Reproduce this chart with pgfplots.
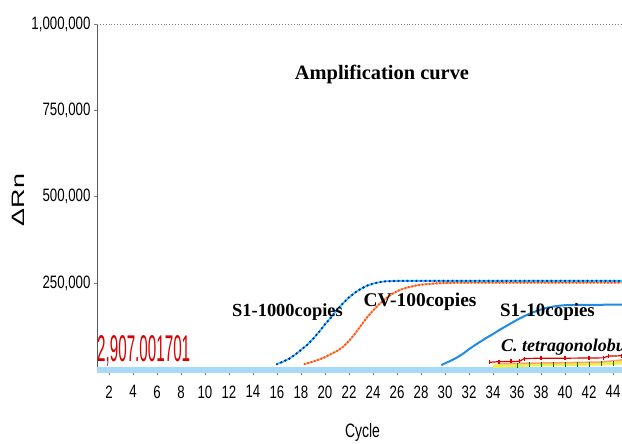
\documentclass[border=0pt]{standalone}
\usepackage{pgfplots}
\pgfplotsset{compat=1.18}
\usepackage{pgfplotstable}
\usepackage{graphicx}
\usepackage{fontspec}
\setmainfont{Liberation Serif}
\newfontfamily\narrowsans[FakeStretch=0.74]{Liberation Sans}
\newfontfamily\plainsans{Liberation Sans}
\definecolor{band}{HTML}{A6DAF6}
\definecolor{navy}{HTML}{1022B0}
\definecolor{cyanl}{HTML}{30C8F8}
\definecolor{orng}{HTML}{FF4E10}
\definecolor{orngl}{HTML}{FFA070}
\definecolor{sky}{HTML}{1E8CE6}
\definecolor{redt}{HTML}{D80000}
\definecolor{ylw}{HTML}{EEF04A}

\pgfplotstableread{
cycle value
16.0 15000
16.5 22000
17.0 30000
17.5 42000
18.0 56000
18.5 70000
19.0 88000
19.5 108000
20.0 130000
20.5 150000
21.0 172000
21.5 191000
22.0 208000
22.5 222000
23.0 233000
23.5 242000
24.0 248000
24.5 252000
25.0 254500
26.0 256000
30.0 256000
44.75 256000
}\sthousand

\pgfplotstableread{
cycle value
18.3 15000
18.5 17000
19.0 22000
19.5 28000
20.0 35000
20.5 44000
21.0 53000
21.5 65000
22.0 82000
22.5 103000
23.0 127000
23.5 150000
24.0 170000
24.5 188000
25.0 203000
25.5 216000
26.0 226000
26.5 233000
27.0 238000
27.5 242000
28.0 245000
29.0 248000
30.0 250000
32.0 251000
44.75 251000
}\cvhundred

\pgfplotstableread{
cycle value
29.7 12000
30.0 17000
30.5 25000
31.0 34000
31.5 45000
32.0 58000
32.5 70000
33.0 81000
33.5 92000
34.0 102000
34.5 113000
35.0 123000
35.5 133000
36.0 143000
36.5 152000
37.0 160000
37.5 167000
38.0 173000
38.5 178000
39.0 181500
39.5 184000
40.0 185500
41.0 186500
44.75 187000
}\sten

\begin{document}
\begin{tikzpicture}
\begin{axis}[
  width=525bp, height=348bp, scale only axis,
  xmin=1, xmax=44.75, ymin=-8000, ymax=1000000,
  axis lines*=left,
  x axis line style={draw=none},
  y axis line style={draw=gray!70!black, line width=0.8bp},
  xtick={2,4,...,44},
  ytick={250000,500000,750000,1000000},
  yticklabels={{250,000},{500,000},{750,000},{1,000,000}},
  scaled y ticks=false,
  tick align=outside, major tick length=3bp,
  tick style={gray, line width=0.6bp},
  ticklabel style={font=\narrowsans\fontsize{18}{18}\selectfont},
  xticklabel style={yshift=-7bp},
  /pgf/number format/assume math mode=true,
  clip=false,
]
% threshold band
\addplot[band, line width=5.5bp] coordinates {(1,-1500) (44.75,-1500)};
% C. tetragonolobus traces
\addplot[ylw, line width=3.5bp] coordinates {(34,9000) (36,11000) (37,13000) (40,14000) (43,16000) (44.75,19000)};
\addplot[green!45!black, only marks, mark=|, mark size=2.5bp] coordinates {(36,12000) (37,13000) (38,13500) (39,13800) (40,14000) (41,14500) (42,15000) (43,16000) (44,18000)};
\addplot[orngl, line width=1.5bp] coordinates {(34.5,16000) (36,17000) (40,19000) (43,21000) (44.75,27000)};
\addplot[red!85!black, line width=1.2bp, mark=|, mark size=2bp] coordinates {(33.7,20000) (34.5,22000) (35.5,22500) (36.2,23000) (36.6,31000) (38,32000) (40,32000) (42,32500) (43.2,33000) (43.6,38000) (44.75,39000)};
% S1-10copies
\addplot[sky, line width=2bp] table[x=cycle,y=value] {\sten};
% CV-100copies
\addplot[orngl, line width=1.8bp] table[x=cycle,y=value] {\cvhundred};
\addplot[orng, line width=2.4bp, line cap=round, dash pattern=on 0pt off 3.5bp] table[x=cycle,y=value] {\cvhundred};
% S1-1000copies
\addplot[cyanl, line width=1.8bp] table[x=cycle,y=value] {\sthousand};
\addplot[navy, line width=2.6bp, line cap=round, dash pattern=on 0pt off 4.5bp] table[x=cycle,y=value] {\sthousand};
% top dotted border
\draw[gray, dotted, line width=0.9bp] (axis cs:1,1000000) -- (axis cs:44.75,1000000);
% texts
\node[anchor=south west, inner sep=0pt] at (axis cs:1,9000) {\resizebox{93bp}{26bp}{\color{redt}\plainsans 2,907.001701}};
\node[anchor=base, inner sep=0pt, font=\bfseries\fontsize{20.5}{20.5}\selectfont] at (axis cs:24.75,838000) {Amplification curve};
\node[anchor=base, inner sep=0pt, font=\bfseries\fontsize{18.5}{18.5}\selectfont] at (axis cs:16.875,151500) {S1-1000copies};
\node[anchor=base, inner sep=0pt, font=\bfseries\fontsize{19.5}{19.5}\selectfont] at (axis cs:27.92,180400) {CV-100copies};
\node[anchor=base, inner sep=0pt, font=\bfseries\fontsize{19}{19}\selectfont] at (axis cs:38.54,152300) {S1-10copies};
\node[anchor=base west, inner sep=0pt, font=\bfseries\itshape\fontsize{18}{18}\selectfont] at (axis cs:34.67,51000) {C. tetragonolobus};
\node[anchor=base, inner sep=0pt] at (axis cs:23.125,-8000) [yshift=-65bp] {\scalebox{0.72}[1]{\plainsans\fontsize{19.5}{19.5}\selectfont Cycle}};
\node[inner sep=0pt, xshift=-78.5bp, yshift=172bp, rotate=90, anchor=center] at (axis cs:1,-8000) {\scalebox{1.5}[1]{\plainsans\fontsize{18}{18}\selectfont ΔRn}};
\end{axis}
\pgfresetboundingbox
\path (-97bp,-72bp) rectangle (525bp,372bp);
\end{tikzpicture}
\end{document}
